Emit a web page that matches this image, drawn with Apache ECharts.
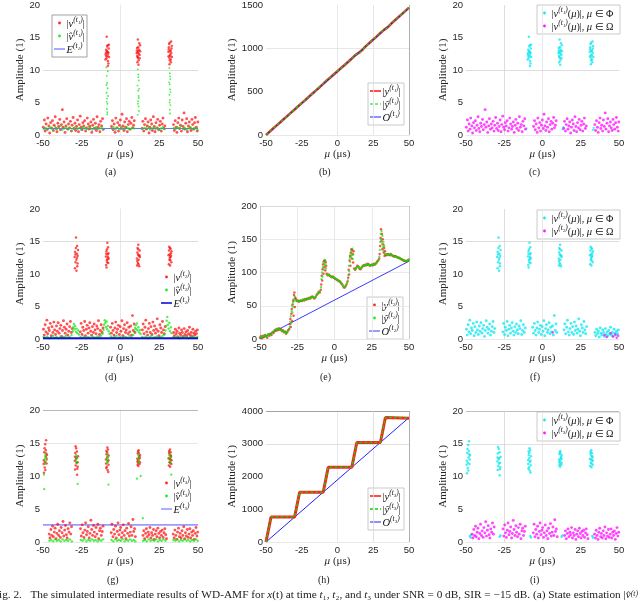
<!DOCTYPE html>
<html>
<head>
<meta charset="utf-8">
<script src="https://cdn.jsdelivr.net/npm/echarts@6/dist/echarts.min.js"></script>
<style>
html,body{margin:0;padding:0;background:#fff;}
#main{width:640px;height:602px;}
</style>
</head>
<body>
<div id="main"></div>
<script>
// 横轴刻度
var xTicks = [-50, -25, 0, 25, 50];

// ---- t1 ----
var vT1Noise = [[-49.8,1.2],[-49.1,2.3],[-48.6,0.6],[-48.0,1.7],[-47.4,0.9],[-46.9,2.6],[-46.2,1.4],[-45.7,0.3],[-45.1,1.9],[-44.5,1.1],[-43.9,2.2],[-43.3,0.7],[-42.8,1.5],[-42.1,2.8],[-41.6,1.0],[-41.0,0.5],[-40.4,1.8],[-39.9,1.3],[-39.2,2.4],[-38.7,0.8],[-38.1,1.6],[-37.5,3.9],[-37.0,1.2],[-36.4,2.0],[-35.8,0.4],[-35.2,1.4],[-34.7,2.5],[-34.0,0.9],[-33.5,1.7],[-32.9,1.1],[-32.3,2.1],[-31.7,0.6],[-31.2,1.5],[-30.6,2.7],[-30.0,1.0],[-29.4,1.8],[-28.9,0.7],[-28.3,1.3],[-27.7,2.3],[-27.1,0.5],[-26.6,1.6],[-26.0,2.9],[-25.4,1.2],[-24.8,0.8],[-24.3,1.9],[-23.7,1.4],[-23.1,2.2],[-22.5,0.6],[-22.0,1.1],[-21.4,2.6],[-20.8,1.7],[-20.2,0.9],[-19.7,1.3],[-19.1,2.0],[-18.5,0.4],[-17.9,1.5],[-17.4,2.4],[-16.8,1.0],[-16.2,1.8],[-15.6,0.7],[-15.1,2.8],[-14.5,1.2],[-13.9,1.6],[-13.3,0.5],[-12.8,2.1],[-12.2,1.4],[-11.6,2.5],[-11.1,0.9],
  [-5.8,1.3],[-5.2,2.2],[-4.7,0.8],[-4.1,1.7],[-3.5,0.4],[-3.0,2.6],[-2.4,1.1],[-1.8,1.9],[-1.3,0.6],[-0.7,1.5],[-0.1,2.3],[0.5,1.0],[1.0,3.2],[1.6,1.4],[2.2,0.7],[2.7,2.0],[3.3,1.2],[3.9,2.5],[4.4,0.5],[5.0,1.6],[5.6,2.1],[6.1,0.9],[6.7,1.8],[7.3,2.7],[7.8,1.1],[8.4,1.5],[8.9,2.2],
  [13.9,1.0],[14.4,2.1],[15.0,0.6],[15.5,1.6],[16.1,2.5],[16.7,0.9],[17.2,1.4],[17.8,2.0],[18.4,0.3],[18.9,1.2],[19.5,2.3],[20.1,1.7],[20.6,0.7],[21.2,2.8],[21.8,1.3],[22.3,0.5],[22.9,1.9],[23.5,1.1],[24.0,2.4],[24.6,0.8],[25.2,1.5],[25.7,2.1],[26.3,0.6],[26.9,1.7],[27.4,2.6],[28.0,1.0],[28.6,1.4],
  [34.2,1.6],[34.7,0.7],[35.3,2.2],[35.9,1.2],[36.4,0.4],[37.0,1.9],[37.6,2.6],[38.1,1.0],[38.7,1.5],[39.3,0.6],[39.8,2.3],[40.4,1.3],[41.0,3.4],[41.5,0.9],[42.1,1.8],[42.7,2.5],[43.2,0.5],[43.8,1.4],[44.4,2.0],[44.9,1.1],[45.5,0.7],[46.1,2.4],[46.6,1.6],[47.2,0.9],[47.8,1.9],[48.3,2.7],[48.9,1.2],[49.5,0.6],[49.9,2.0]];
var vT1Peak = [[-9.6,12.4],[-9.3,13.1],[-9.0,11.8],[-8.8,12.9],[-8.6,13.6],[-8.4,12.2],[-8.1,11.4],[-7.9,12.7],[-7.6,13.3],[-7.4,12.0],[-9.4,12.6],[-8.9,15.1],[-8.3,13.8],[-7.8,11.0],[-9.1,12.1],[-8.0,12.5],[-7.5,13.9],[-9.7,11.6],[-8.5,12.8],[-8.2,10.6],
  [10.4,12.6],[10.7,13.4],[11.0,12.0],[11.2,14.7],[11.5,12.9],[11.7,11.5],[12.0,13.1],[12.3,12.3],[12.6,13.8],[10.9,11.2],[11.4,13.5],[11.9,12.5],[12.4,11.8],[10.6,13.0],[11.1,12.7],[12.1,14.1],[11.6,10.8],[10.8,12.2],[12.7,12.9],[11.3,11.9],
  [30.9,12.8],[31.2,13.5],[31.5,11.9],[31.7,14.2],[32.0,12.4],[32.3,13.0],[32.5,11.2],[32.8,12.6],[33.1,13.7],[31.0,12.1],[31.4,14.0],[31.9,12.9],[32.4,11.6],[32.9,13.3],[31.6,10.9],[32.2,12.2],[33.2,12.0],[31.1,13.2],[32.7,14.4],[31.8,11.5]];
var vHatT1Noise = [[-49.5,0.9],[-48.2,1.1],[-47.0,0.8],[-45.8,1.2],[-44.6,1.0],[-43.4,0.7],[-42.2,1.3],[-41.0,0.9],[-39.8,1.1],[-38.6,1.4],[-37.4,0.8],[-36.2,1.0],[-35.0,1.2],[-33.8,0.9],[-32.6,1.1],[-31.4,0.7],[-30.2,1.0],[-29.0,1.3],[-27.8,0.9],[-26.6,1.1],[-25.4,0.8],[-24.2,1.2],[-23.0,1.0],[-21.8,0.9],[-20.6,1.3],[-19.4,1.0],[-18.2,0.8],[-17.0,1.1],[-15.8,1.2],[-14.6,0.9],[-13.4,1.0],[-12.2,1.2],[-11.2,0.8],
  [-5.6,1.0],[-4.4,1.2],[-3.2,0.8],[-2.0,1.1],[-0.8,0.9],[0.4,1.3],[1.6,1.0],[2.8,0.8],[4.0,1.2],[5.2,1.0],[6.4,0.9],[7.6,1.1],[8.8,1.0],
  [14.2,0.9],[15.4,1.1],[16.6,1.0],[17.8,1.3],[19.0,0.8],[20.2,1.0],[21.4,1.2],[22.6,0.9],[23.8,1.1],[25.0,0.8],[26.2,1.0],[27.4,1.2],[28.6,0.9],
  [34.4,1.1],[35.6,0.9],[36.8,1.2],[38.0,1.0],[39.2,1.4],[40.4,0.9],[41.6,1.1],[42.8,0.8],[44.0,1.0],[45.2,1.2],[46.4,0.9],[47.6,1.1],[48.8,1.0],[49.8,0.8]];
var vHatT1Peak = [[-9.2,10.4],[-8.9,9.1],[-8.6,8.0],[-8.3,7.2],[-9.0,6.5],[-8.7,5.6],[-8.4,4.8],[-8.8,4.0],[-8.5,3.5],[-8.2,9.8],[-9.1,7.7],[-8.0,6.0],[-8.6,3.2],[-8.9,5.1],
  [11.2,10.1],[11.5,9.3],[11.8,8.4],[11.0,7.6],[11.4,6.8],[11.7,6.0],[11.3,5.2],[11.6,4.4],[11.9,3.7],[11.1,3.1],[11.5,8.9],[11.8,5.7],[11.2,4.8],[12.0,7.1],
  [31.5,10.3],[31.8,9.5],[32.1,8.6],[31.7,7.8],[32.0,7.0],[31.6,6.2],[31.9,5.4],[32.2,4.6],[31.8,3.9],[32.0,3.3],[31.4,8.1],[32.3,6.6],[31.7,5.0],[31.9,9.0]];
var vPhiT1Low = [[-10.5,1.0],[13.2,0.9],[13.6,1.2],[33.0,0.8],[33.5,1.1]];
var eT1 = [[-50,1.0],[50,1.0]];
var yT1 = [[-50,0],[-47.5,37],[-45,74],[-42.5,111],[-40,147],[-37.5,184],[-35,221],[-32.5,258],[-30,295],[-27.5,331],[-25,368],[-22.5,404],[-20,441],[-17.5,478],[-15,515],[-12.5,552],[-10,590],[-7.5,628],[-5,664],[-2.5,700],[0,736],[2.5,772],[5,808],[7.5,845],[10,882],[12.5,921],[15,950],[17.5,984],[20,1028],[22.5,1065],[25,1102],[27.5,1138],[30,1176],[32.5,1213],[35,1242],[37.5,1283],[40,1322],[42.5,1358],[45,1395],[47.5,1432],[50,1470]];
var yHatT1 = [[-50,2],[-47.5,39],[-45,72],[-42.5,112],[-40,149],[-37.5,182],[-35,223],[-32.5,256],[-30,297],[-27.5,333],[-25,366],[-22.5,406],[-20,443],[-17.5,476],[-15,517],[-12.5,555],[-10,596],[-8.5,612],[-7.5,640],[-6,650],[-5,662],[-2.5,702],[0,738],[2.5,770],[5,810],[7.5,847],[10,884],[12.5,926],[14,938],[15.5,946],[17.5,982],[20,1030],[22.5,1063],[25,1104],[27.5,1140],[30,1178],[31.5,1200],[33,1210],[35,1240],[37.5,1285],[40,1320],[42.5,1360],[45,1393],[47.5,1434],[50,1468]];
var oT1 = [[-50,0],[50,1465]];

// ---- t2 ----
var vT2Noise = [[-49.7,1.5],[-49.2,0.6],[-48.6,2.2],[-48.1,1.1],[-47.5,2.9],[-47.0,0.8],[-46.4,1.7],[-45.9,1.3],[-45.3,2.4],[-44.7,0.5],[-44.2,1.9],[-43.6,1.0],[-43.0,2.6],[-42.5,1.4],[-41.9,0.7],[-41.3,2.0],[-40.8,1.2],[-40.2,2.5],[-39.6,0.9],[-39.1,1.6],[-38.5,2.1],[-37.9,0.4],[-37.4,1.3],[-36.8,2.8],[-36.2,1.8],[-35.7,0.9],[-35.1,1.5],[-34.5,2.3],[-34.0,0.6],[-33.4,1.2],[-32.8,1.9],[-32.3,2.7],[-31.7,1.0],[-31.2,1.6],
  [-25.9,1.1],[-25.4,2.4],[-24.8,0.7],[-24.3,1.8],[-23.7,1.3],[-23.1,2.7],[-22.6,0.5],[-22.0,1.5],[-21.5,2.1],[-20.9,0.9],[-20.3,1.7],[-19.8,2.5],[-19.2,1.2],[-18.7,0.6],[-18.1,1.9],[-17.5,1.0],[-17.0,2.3],[-16.4,1.4],[-15.8,0.8],[-15.3,2.0],[-14.7,1.6],[-14.2,2.8],[-13.6,0.7],[-13.0,1.3],[-12.5,2.2],[-11.9,1.0],[-11.3,1.7],
  [-6.4,1.8],[-5.9,0.9],[-5.3,2.4],[-4.8,1.3],[-4.2,0.6],[-3.6,1.7],[-3.1,2.6],[-2.5,1.0],[-1.9,1.5],[-1.4,2.1],[-0.8,0.7],[-0.2,1.9],[0.3,1.2],[0.9,2.8],[1.5,0.5],[2.0,1.6],[2.6,2.2],[3.2,1.0],[3.7,1.4],[4.3,2.5],[4.9,0.8],[5.4,1.8],[6.0,1.1],[6.6,2.0],[7.1,0.6],[7.7,3.6],[8.3,1.3],[8.8,2.3],[9.3,1.0],
  [14.1,1.4],[14.6,2.3],[15.2,0.8],[15.8,1.8],[16.3,2.9],[16.9,1.1],[17.5,0.6],[18.0,1.6],[18.6,2.4],[19.2,1.0],[19.7,1.9],[20.3,0.7],[20.9,2.6],[21.4,1.3],[22.0,2.0],[22.6,0.9],[23.1,1.5],[23.7,3.1],[24.3,1.2],[24.8,0.5],[25.4,2.2],[26.0,1.7],[26.5,1.0],[27.1,2.7],[27.7,1.4],[28.2,0.8],[28.8,1.9],
  [34.3,1.0],[34.8,0.5],[35.4,1.5],[36.0,0.8],[36.5,1.2],[37.1,0.3],[37.7,1.7],[38.2,0.9],[38.8,0.6],[39.4,1.4],[39.9,1.0],[40.5,0.4],[41.1,1.6],[41.6,0.7],[42.2,1.1],[42.8,0.5],[43.3,1.3],[43.9,0.8],[44.5,1.8],[45.0,0.6],[45.6,1.0],[46.2,0.4],[46.7,1.5],[47.3,0.9],[47.9,0.6],[48.4,1.2],[49.0,0.8],[49.6,1.4]];
var vT2Peak = [[-29.6,12.6],[-29.3,13.4],[-29.0,11.8],[-28.8,14.0],[-28.5,12.2],[-28.2,13.1],[-27.9,11.2],[-27.6,12.8],[-27.4,13.7],[-29.4,10.9],[-28.7,15.6],[-28.1,12.5],[-27.7,11.6],[-29.1,13.0],[-28.4,10.5],[-28.0,14.3],
  [-9.4,12.7],[-9.1,13.5],[-8.8,12.1],[-8.5,14.8],[-8.2,13.0],[-7.9,11.7],[-7.6,12.4],[-9.3,11.4],[-8.7,13.8],[-8.1,12.6],[-7.8,13.2],[-9.0,11.0],[-8.4,12.3],[-8.0,14.1],[-8.6,11.8],[-9.2,13.1],
  [10.6,12.4],[10.9,13.3],[11.2,11.7],[11.5,14.5],[11.8,12.8],[12.1,11.2],[12.4,13.6],[10.8,12.0],[11.3,13.0],[11.7,12.2],[12.2,12.9],[11.0,14.0],[11.6,11.5],[12.5,12.6],[11.4,13.8],[10.7,11.3],
  [31.0,12.9],[31.3,13.6],[31.6,12.2],[31.9,14.0],[32.2,12.6],[32.5,13.2],[32.8,11.8],[31.2,11.5],[31.7,13.0],[32.1,12.1],[32.6,12.8],[31.4,14.2],[32.0,11.3],[32.9,13.5],[31.8,12.5],[32.3,13.9]];
var vHatT2 = [[-49.6,0.3],[-48.4,0.2],[-47.2,0.4],[-46.0,0.1],[-44.8,0.3],[-43.6,0.5],[-42.4,0.2],[-41.2,0.3],[-40.0,0.1],[-38.8,0.4],[-37.6,0.2],[-36.4,0.3],[-35.2,0.5],[-34.0,0.2],[-32.8,0.3],[-31.6,0.6],
  [-30.8,1.2],[-30.4,1.8],[-30.0,2.3],[-29.6,1.5],[-29.2,2.0],[-28.8,1.1],[-28.3,1.6],[-27.8,0.9],[-27.3,1.3],[-26.8,0.7],
  [-25.8,0.3],[-24.6,0.2],[-23.4,0.4],[-22.2,0.1],[-21.0,0.3],[-19.8,0.2],[-18.6,0.5],[-17.4,0.3],[-16.2,0.2],[-15.0,0.4],[-13.8,0.3],[-12.6,0.5],[-11.6,0.8],
  [-11.0,1.4],[-10.6,2.2],[-10.2,2.9],[-9.8,2.5],[-9.4,1.8],[-9.0,2.7],[-8.6,1.5],[-8.1,2.0],[-7.6,1.2],[-7.1,0.8],
  [-6.2,0.4],[-5.0,0.2],[-3.8,0.3],[-2.6,0.5],[-1.4,0.2],[-0.2,0.3],[1.0,0.1],[2.2,0.4],[3.4,0.3],[4.6,0.2],[5.8,0.5],[7.0,0.3],[8.2,0.6],
  [9.0,1.1],[9.4,1.7],[9.8,2.1],[10.2,1.5],[10.6,2.4],[11.0,1.3],[11.5,1.8],[12.0,1.0],[12.5,1.4],[13.0,0.8],
  [14.0,0.3],[15.2,0.2],[16.4,0.4],[17.6,0.1],[18.8,0.3],[20.0,0.5],[21.2,0.2],[22.4,0.3],[23.6,0.4],[24.8,0.2],[26.0,0.3],[27.2,0.5],[28.4,0.7],
  [29.0,1.3],[29.4,2.0],[29.8,2.8],[30.2,3.4],[30.6,2.2],[31.0,1.6],[31.5,2.5],[32.0,1.2],[32.5,1.8],[33.0,0.9],
  [34.0,0.3],[35.2,0.2],[36.4,0.4],[37.6,0.1],[38.8,0.3],[40.0,0.2],[41.2,0.4],[42.4,0.3],[43.6,0.1],[44.8,0.3],[46.0,0.2],[47.2,0.4],[48.4,0.2],[49.6,0.3]];
var vOmegaT2 = [[6.7,1.0],[40.5,0.6],[42.0,0.3],[44.5,0.9],[46.0,0.4],[47.5,0.7],[48.5,0.2],[49.5,0.5]];
var eT2 = [[-50,0.12],[50,0.12]];
var yT2 = [[-50,2],[-49.3,4],[-48.6,1],[-47.9,5],[-47.2,3],[-46.5,6],[-45.8,4],[-45.1,2],[-44.4,7],[-43.7,5],[-43.0,8],[-42.3,6],[-41.6,10],[-40.9,9],[-40.2,13],[-39.5,12],[-38.8,15],[-38.1,13],[-37.4,16],[-36.7,14],[-36.0,15],[-35.3,12],[-34.6,13],[-33.9,10],[-33.2,11],[-32.5,8],[-31.8,10],[-31.1,13],[-30.4,15],
  [-29.9,22],[-29.6,30],[-29.3,18],[-29.0,38],[-28.7,45],[-28.4,27],[-28.1,52],[-27.8,58],[-27.5,35],[-27.2,66],[-26.9,70],[-26.6,48],[-26.3,62],
  [-26.0,60],[-25.3,57],[-24.6,58],[-23.9,56],[-23.2,57],[-22.5,58],[-21.8,57],[-21.1,59],[-20.4,58],[-19.7,60],[-19.0,59],[-18.3,61],[-17.6,60],[-16.9,62],[-16.2,61],[-15.5,63],[-14.8,64],[-14.1,62],[-13.4,61],[-12.7,63],[-12.0,66],[-11.3,68],[-10.6,71],[-9.9,70],[-9.2,74],
  [-8.9,82],[-8.6,95],[-8.3,88],[-8.0,105],[-7.7,112],[-7.4,98],[-7.1,117],[-6.8,108],[-6.5,118],[-6.2,103],[-5.9,115],[-5.6,110],
  [-5.3,98],[-4.6,96],[-3.9,97],[-3.2,95],[-2.5,94],[-1.8,93],[-1.1,94],[-0.4,92],[0.3,91],[1.0,90],[1.7,89],[2.4,88],[3.1,87],[3.8,86],[4.5,84],[5.2,82],[5.9,79],[6.6,77],[7.3,79],[8.0,82],[8.7,86],
  [9.2,92],[9.5,104],[9.8,97],[10.1,118],[10.4,125],[10.7,110],[11.0,130],[11.3,135],[11.6,121],[11.9,134],[12.2,128],[12.5,115],[12.8,132],
  [13.2,106],[13.9,104],[14.6,107],[15.3,110],[16.0,109],[16.7,106],[17.4,105],[18.1,107],[18.8,109],[19.5,111],[20.2,110],[20.9,112],[21.6,111],[22.3,113],[23.0,112],[23.7,110],[24.4,111],[25.1,112],[25.8,111],[26.5,113],[27.2,112],[27.9,114],[28.6,116],[29.3,118],[30.0,121],
  [30.3,128],[30.6,140],[30.9,152],[31.2,165],[31.5,147],[31.8,158],[32.1,135],[32.4,150],[32.7,142],[33.0,130],[33.3,137],[33.6,125],[33.9,132],
  [34.3,127],[35.0,126],[35.7,128],[36.4,127],[37.1,126],[37.8,128],[38.5,126],[39.2,125],[39.9,124],[40.6,125],[41.3,124],[42.0,123],[42.7,122],[43.4,122],[44.1,121],[44.8,120],[45.5,119],[46.2,118],[46.9,118],[47.6,117],[48.3,117],[49.0,118],[49.7,119]];
var yHatT2 = [[-49.6,3],[-48.9,2],[-48.2,4],[-47.5,4],[-46.8,5],[-46.1,5],[-45.4,3],[-44.7,6],[-44.0,6],[-43.3,7],[-42.6,7],[-41.9,9],[-41.2,11],[-40.5,11],[-39.8,14],[-39.1,14],[-38.4,14],[-37.7,15],[-37.0,15],[-36.3,14],[-35.6,13],[-34.9,12],[-34.2,11],[-33.5,11],[-32.8,9],[-32.1,9],[-31.4,12],[-30.7,14],
  [-30.0,18],[-29.7,26],[-29.4,34],[-29.1,24],[-28.8,42],[-28.5,50],[-28.2,40],[-27.9,55],[-27.6,48],[-27.3,60],[-27.0,57],[-26.7,64],
  [-25.7,58],[-25.0,58],[-24.3,57],[-23.6,57],[-22.9,58],[-22.2,57],[-21.5,58],[-20.8,59],[-20.1,59],[-19.4,59],[-18.7,60],[-18.0,60],[-17.3,61],[-16.6,61],[-15.9,62],[-15.2,63],[-14.5,63],[-13.8,62],[-13.1,62],[-12.4,64],[-11.7,67],[-11.0,69],[-10.3,70],[-9.6,72],
  [-9.0,78],[-8.7,90],[-8.4,100],[-8.1,94],[-7.8,108],[-7.5,115],[-7.2,104],[-6.9,113],[-6.6,119],[-6.3,111],[-6.0,117],[-5.7,106],
  [-5.0,97],[-4.3,96],[-3.6,96],[-2.9,95],[-2.2,94],[-1.5,93],[-0.8,93],[-0.1,92],[0.6,91],[1.3,90],[2.0,89],[2.7,88],[3.4,87],[4.1,85],[4.8,83],[5.5,81],[6.2,78],[6.9,78],[7.6,80],[8.3,84],[8.9,88],
  [9.3,96],[9.6,110],[9.9,102],[10.2,122],[10.5,116],[10.8,128],[11.1,124],[11.4,133],[11.7,126],[12.0,136],[12.3,120],[12.6,127],
  [13.5,105],[14.2,105],[14.9,108],[15.6,109],[16.3,108],[17.0,106],[17.7,106],[18.4,108],[19.1,110],[19.8,110],[20.5,111],[21.2,111],[21.9,112],[22.6,112],[23.3,111],[24.0,111],[24.7,111],[25.4,111],[26.1,112],[26.8,112],[27.5,113],[28.2,115],[28.9,117],[29.6,119],
  [30.1,124],[30.4,134],[30.7,146],[31.0,158],[31.3,150],[31.6,162],[31.9,143],[32.2,155],[32.5,138],[32.8,146],[33.1,133],[33.4,140],[33.7,128],
  [34.6,127],[35.3,127],[36.0,127],[36.7,127],[37.4,127],[38.1,127],[38.8,126],[39.5,125],[40.2,124],[40.9,124],[41.6,123],[42.3,123],[43.0,122],[43.7,121],[44.4,121],[45.1,120],[45.8,119],[46.5,118],[47.2,118],[47.9,117],[48.6,117],[49.3,118],[50.0,119]];
var oT2 = [[-50,0],[50,117]];

// ---- t3 ----
var vT3Noise = [[-46.0,1.2],[-45.5,0.6],[-44.9,1.9],[-44.4,1.0],[-43.8,2.4],[-43.3,0.8],[-42.7,1.5],[-42.2,2.1],[-41.6,0.5],[-41.0,1.3],[-40.5,2.7],[-39.9,1.0],[-39.4,1.7],[-38.8,0.7],[-38.3,2.2],[-37.7,1.4],[-37.1,3.1],[-36.6,0.9],[-36.0,1.8],[-35.5,2.5],[-34.9,1.1],[-34.4,0.6],[-33.8,2.0],[-33.2,1.5],[-32.7,2.9],[-32.1,1.2],[-31.6,2.3],
  [-25.8,2.0],[-25.3,0.9],[-24.7,2.6],[-24.2,1.4],[-23.6,0.7],[-23.0,1.8],[-22.5,2.9],[-21.9,1.1],[-21.4,1.6],[-20.8,2.3],[-20.2,0.6],[-19.7,1.3],[-19.1,3.3],[-18.6,1.9],[-18.0,1.0],[-17.4,2.5],[-16.9,1.5],[-16.3,0.8],[-15.8,2.2],[-15.2,1.2],[-14.6,2.7],[-14.1,0.5],[-13.5,1.7],[-13.0,2.1],[-12.4,1.0],[-11.8,1.6],[-11.3,2.4],
  [-6.0,1.4],[-5.5,2.7],[-4.9,0.8],[-4.4,1.9],[-3.8,1.2],[-3.2,2.4],[-2.7,0.6],[-2.1,1.6],[-1.6,2.9],[-1.0,1.1],[-0.4,1.8],[0.1,2.2],[0.7,0.7],[1.2,1.4],[1.8,2.6],[2.4,1.0],[2.9,1.7],[3.5,0.5],[4.0,2.1],[4.6,1.3],[5.2,2.8],[5.7,0.9],[6.3,1.5],[6.8,2.3],[7.4,1.0],[8.0,3.4],[8.5,1.6],[9.1,2.0],[9.6,0.8],
  [14.5,1.0],[15.0,1.7],[15.6,0.5],[16.2,1.3],[16.7,2.0],[17.3,0.8],[17.9,1.5],[18.4,1.1],[19.0,2.2],[19.6,0.6],[20.1,1.4],[20.7,1.0],[21.3,1.9],[21.8,0.4],[22.4,1.2],[23.0,1.7],[23.5,0.8],[24.1,2.1],[24.7,1.3],[25.2,0.6],[25.8,1.6],[26.4,1.0],[26.9,1.8],[27.5,0.7],[28.1,1.4],[28.6,2.0],[29.2,1.1],[29.7,0.5],
  [34.0,1.2],[34.6,0.6],[35.1,1.8],[35.7,1.0],[36.3,0.4],[36.8,1.5],[37.4,2.1],[38.0,0.8],[38.5,1.3],[39.1,0.6],[39.7,1.7],[40.2,1.0],[40.8,2.3],[41.4,0.5],[41.9,1.4],[42.5,0.9],[43.1,1.9],[43.6,0.7],[44.2,1.2],[44.8,2.0],[45.3,0.6],[45.9,1.5],[46.5,1.0],[47.0,1.7],[47.6,0.4],[48.2,1.3],[48.7,2.2],[49.3,0.9],[49.8,1.5]];
var vT3Peak = [[-49.5,12.4],[-49.2,13.6],[-48.9,11.3],[-48.6,14.8],[-48.3,12.9],[-48.0,15.4],[-47.7,11.9],[-47.4,13.2],[-49.4,10.5],[-48.8,12.1],[-48.2,13.9],[-47.6,12.6],[-49.0,14.2],[-48.5,10.9],[-47.9,13.4],[-49.6,11.8],
  [-29.5,12.3],[-29.2,13.5],[-28.9,11.6],[-28.6,14.2],[-28.3,12.8],[-28.0,10.2],[-27.7,12.1],[-27.4,13.0],[-29.3,11.0],[-28.7,12.6],[-28.1,13.7],[-27.6,11.4],[-29.0,14.5],[-28.4,12.0],[-27.9,11.1],[-29.4,12.9],
  [-9.4,12.5],[-9.1,13.8],[-8.8,11.4],[-8.5,14.3],[-8.2,12.2],[-7.9,10.6],[-7.6,13.1],[-9.3,11.9],[-8.7,12.8],[-8.1,14.0],[-7.7,11.7],[-9.0,13.3],[-8.4,10.9],[-7.8,12.4],[-8.6,13.6],[-9.2,11.2],
  [10.8,12.6],[11.1,13.4],[11.4,12.0],[11.7,13.9],[12.0,12.8],[12.3,11.8],[12.6,13.2],[10.9,12.2],[11.3,13.7],[11.6,12.4],[12.1,13.0],[12.5,12.1],[11.0,11.7],[11.8,13.5],[12.4,12.7],[11.5,11.5],
  [31.0,12.7],[31.3,13.5],[31.6,12.1],[31.9,14.0],[32.2,12.5],[32.5,13.1],[32.8,11.8],[31.2,11.6],[31.7,13.2],[32.1,12.0],[32.6,12.9],[31.4,13.8],[32.0,11.4],[32.9,12.4],[31.8,12.6],[32.3,13.6]];
var vHatT3Peak = [[-48.9,12.6],[-48.6,13.1],[-48.3,12.2],[-48.0,12.9],[-47.7,12.4],[-48.4,13.4],[-48.8,11.8],[-49.2,8.0],[-49.4,10.2],
  [-28.8,12.4],[-28.5,12.9],[-28.2,12.1],[-27.9,12.7],[-28.6,13.2],[-28.1,11.9],[-27.6,8.8],
  [-8.8,12.5],[-8.5,13.0],[-8.2,12.2],[-7.9,12.8],[-8.6,11.9],[-8.3,13.3],[-7.8,8.7],
  [11.2,12.6],[11.5,13.1],[11.8,12.3],[12.1,12.9],[11.6,13.4],[11.9,12.0],[10.6,9.6],[13.0,10.0],[14.4,3.6],
  [31.5,12.5],[31.8,13.0],[32.1,12.2],[32.4,12.8],[31.9,13.3],[32.2,11.9],[32.8,10.2]];
var vHatT3Noise = [[-45.8,0.2],[-44.6,0.3],[-43.4,0.1],[-42.2,0.4],[-41.0,0.2],[-39.8,0.3],[-38.6,0.1],[-37.4,0.4],[-36.2,0.2],[-35.0,0.3],[-33.8,0.2],[-32.6,0.4],[-31.4,0.1],
  [-25.6,0.3],[-24.4,0.2],[-23.2,0.4],[-22.0,0.1],[-20.8,0.3],[-19.6,0.2],[-18.4,0.4],[-17.2,0.2],[-16.0,0.3],[-14.8,0.1],[-13.6,0.3],[-12.4,0.2],[-11.2,0.4],
  [-5.8,0.3],[-4.6,0.1],[-3.4,0.4],[-2.2,0.2],[-1.0,0.3],[0.2,0.2],[1.4,0.4],[2.6,0.1],[3.8,0.3],[5.0,0.2],[6.2,0.4],[7.4,0.2],[8.6,0.3],[9.6,0.1],
  [14.6,0.2],[15.8,0.3],[17.0,0.1],[18.2,0.4],[19.4,0.2],[20.6,0.3],[21.8,0.2],[23.0,0.4],[24.2,0.1],[25.4,0.3],[26.6,0.2],[27.8,0.4],[29.0,0.2],
  [34.2,0.3],[35.4,0.2],[36.6,0.4],[37.8,0.1],[39.0,0.3],[40.2,0.2],[41.4,0.4],[42.6,0.2],[43.8,0.3],[45.0,0.1],[46.2,0.3],[47.4,0.2],[48.6,0.4],[49.8,0.2]];
var vPhiT3Low = [[-47.5,0.9],[-47.0,0.7],[-46.5,1.1],[-28.0,0.8],[-27.5,1.0],[-8.0,0.9],[-7.5,0.7],[12.5,0.8],[13.0,1.0],[32.5,0.9],[33.0,0.7]];
var eT3 = [[-50,2.6],[50,2.6]];
var yT3 = [[-50,0],[-46.5,760],[-30,760],[-26.5,1520],[-10,1520],[-6.5,2280],[10,2280],[13.5,3040],[30,3040],[33.5,3800],[50,3780]];
var yHatT3 = [[-50,0],[-46.5,765],[-30,765],[-26.5,1525],[-10,1525],[-6.5,2285],[10,2285],[13.5,3045],[30,3045],[33.5,3805],[50,3785]];
var oT3 = [[-50,0],[50,3800]];

// 图例文字(富文本)
var legendText = {
  a1:'{n||}{i|v}{s|(t₁)}{n||}', a2:'{n||}{i|v̂}{s|(t₁)}{n||}', a3:'{i|E}{s|(t₁)}',
  b1:'{n||}{i|y}{s|(t₁)}{n||}', b2:'{n||}{i|ŷ}{s|(t₁)}{n||}', b3:'{i|O}{s|(t₁)}',
  c1:'{n||}{i|v}{s|(t₁)}{n|(}{i|μ}{n|)|, }{i|μ}{n| ∈ Φ}', c2:'{n||}{i|v}{s|(t₁)}{n|(}{i|μ}{n|)|, }{i|μ}{n| ∈ Ω}',
  d1:'{n||}{i|v}{s|(t₂)}{n||}', d2:'{n||}{i|v̂}{s|(t₂)}{n||}', d3:'{i|E}{s|(t₂)}',
  e1:'{n||}{i|y}{s|(t₂)}{n||}', e2:'{n||}{i|ŷ}{s|(t₂)}{n||}', e3:'{i|O}{s|(t₂)}',
  f1:'{n||}{i|v}{s|(t₂)}{n|(}{i|μ}{n|)|, }{i|μ}{n| ∈ Φ}', f2:'{n||}{i|v}{s|(t₂)}{n|(}{i|μ}{n|)|, }{i|μ}{n| ∈ Ω}',
  g1:'{n||}{i|v}{s|(t₃)}{n||}', g2:'{n||}{i|v̂}{s|(t₃)}{n||}', g3:'{i|E}{s|(t₃)}',
  h1:'{n||}{i|y}{s|(t₃)}{n||}', h2:'{n||}{i|ŷ}{s|(t₃)}{n||}', h3:'{i|O}{s|(t₃)}',
  i1:'{n||}{i|v}{s|(t₃)}{n|(}{i|μ}{n|)|, }{i|μ}{n| ∈ Φ}', i2:'{n||}{i|v}{s|(t₃)}{n|(}{i|μ}{n|)|, }{i|μ}{n| ∈ Ω}'
};

var RED = 'rgba(255,0,0,0.85)', GREEN = 'rgba(0,230,0,0.85)', CYAN = 'rgba(0,230,240,0.9)', MAG = 'rgba(255,0,255,0.9)';

function sc(name, data, color, size){ return {kind:'scatter', name:name, data:data, color:color, size:size}; }
function ln(name, data, color, width, dash){ return {kind:'line', name:name, data:data, color:color, width:width, dash:dash}; }

var panels = [
  {rect:[43,4,155,131], yMax:20, yStep:5, nameGap:17, cap:'(a)', capX:113, capY:173,
   hLines:[[10,'#d4d4d4']], vLines:[],
   series:[sc('a1',vT1Noise,RED,2.9), sc('a1',vT1Peak,RED,2.5), ln('a3',eT1,'#7070ff',1.2), sc('a2',vHatT1Noise,GREEN,2.3), sc('a2',vHatT1Peak,GREEN,1.9)],
   legend:{left:52, top:15, width:35, items:['a1','a2','a3'], border:'#8c8c8c'}},
  {rect:[266,4,143,131], yMax:1500, yStep:500, nameGap:27, cap:'(b)', capX:327, capY:173,
   hLines:[[1000,'#e0e0e0']], vLines:[[25,'#e0e0e0'],[50,'#9a9a9a']],
   series:[ln('b1',yT1,'#ff2020',2.6), ln('b3',oT1,'#2020ff',1), ln('b2',yHatT1,'#00dd00',1.2,'dashed')],
   legend:{left:368, top:83, width:36, items:['b1','b2','b3'], border:'#bcbcbc'}},
  {rect:[466,4,153,131], yMax:20, yStep:5, nameGap:17, cap:'(c)', capX:537, capY:173,
   hLines:[[10,'#d4d4d4']], vLines:[[-25,'#d4d4d4']],
   series:[sc('c1',vT1Peak,CYAN,2.5), sc('c1',vPhiT1Low,CYAN,2.3), sc('c2',vT1Noise,MAG,2.9)],
   legend:{left:537, top:5, width:83, items:['c1','c2'], border:'#bcbcbc'}},
  {rect:[43,209,155,130], yMax:20, yStep:5, nameGap:17, cap:'(d)', capX:113, capY:378,
   hLines:[[15,'#d4d4d4']], vLines:[],
   series:[sc('d1',vT2Noise,RED,2.9), sc('d1',vT2Peak,RED,2.5), sc('d2',vHatT2,GREEN,2.4), ln('d3',eT2,'#1010d0',2)],
   legend:{left:159, top:269, width:38, items:['d1','d2','d3'], border:null}},
  {rect:[260,206,149,133], yMax:200, yStep:50, nameGap:21, cap:'(e)', capX:328, capY:378,
   hLines:[[50,'#e6e6e6'],[100,'#e6e6e6'],[150,'#e6e6e6'],[200,'#cfcfcf']], vLines:[[-25,'#e6e6e6'],[0,'#e6e6e6'],[25,'#e6e6e6'],[-50,'#bdbdbd'],[50,'#bdbdbd']],
   series:[ln('e3',oT2,'#3a3aff',1), sc('e1',yT2,RED,2.5), sc('e2',yHatT2,GREEN,2.3)],
   legend:{left:367, top:297, width:36, items:['e1','e2','e3'], border:'#bcbcbc'}},
  {rect:[466,209,153,130], yMax:20, yStep:5, nameGap:17, cap:'(f)', capX:538, capY:378,
   hLines:[[15,'#d4d4d4']], vLines:[[-25,'#d4d4d4']],
   series:[sc('f1',vT2Noise,CYAN,2.9), sc('f1',vT2Peak,CYAN,2.5), sc('f2',vOmegaT2,MAG,2.5)],
   legend:{left:537, top:210, width:83, items:['f1','f2'], border:'#bcbcbc'}},
  {rect:[43,410,155,132], yMax:20, yStep:5, nameGap:17, cap:'(g)', capX:115, capY:581,
   hLines:[[20,'#a6a6a6'],[15,'#e0e0e0']], vLines:[],
   series:[ln('g3',eT3,'#9a9aff',1.6), sc('g1',vT3Noise,RED,2.9), sc('g1',vT3Peak,RED,2.5), sc('g2',vHatT3Noise,GREEN,2.4), sc('g2',vHatT3Peak,GREEN,2.3)],
   legend:{left:159, top:475, width:38, items:['g1','g2','g3'], border:null}},
  {rect:[266,411,143,131], yMax:4000, yStep:1000, nameGap:27, cap:'(h)', capX:326, capY:581,
   hLines:[[3000,'#d8d8d8'],[4000,'#8c8c8c']], vLines:[[25,'#d8d8d8'],[50,'#9a9a9a']],
   series:[ln('h3',oT3,'#2020ff',1), ln('h1',yT3,'#ff2020',3), ln('h2',yHatT3,'#00dd00',1.3,'dashed')],
   legend:{left:368, top:488, width:36, items:['h1','h2','h3'], border:'#bcbcbc'}},
  {rect:[466,411,153,131], yMax:20, yStep:5, nameGap:17, cap:'(i)', capX:538, capY:581,
   hLines:[[15,'#d8d8d8'],[20,'#b0b0b0']], vLines:[[-25,'#d4d4d4']],
   series:[sc('i1',vT3Peak,CYAN,2.5), sc('i1',vPhiT3Low,CYAN,2.5), sc('i2',vT3Noise,MAG,2.9)],
   legend:{left:537, top:412, width:83, items:['i1','i2'], border:'#bcbcbc'}}
];

var tickFont = 'Liberation Sans, Arial, sans-serif';
var serif = 'Liberation Serif, Times New Roman, serif';

var richLegend = {
  n:{fontFamily:serif, fontSize:10, fill:'#111', verticalAlign:'bottom', lineHeight:13},
  i:{fontFamily:serif, fontSize:10.5, fontStyle:'italic', fill:'#111', verticalAlign:'bottom', lineHeight:13},
  s:{fontFamily:serif, fontSize:7.5, fontStyle:'italic', fill:'#111', verticalAlign:'top', lineHeight:9}
};

var grids = [], xAxes = [], yAxes = [], series = [], graphics = [];

panels.forEach(function(p, gi){
  grids.push({left:p.rect[0], top:p.rect[1], width:p.rect[2], height:p.rect[3], containLabel:false});
  xAxes.push({
    type:'value', gridIndex:gi, min:xTicks[0], max:xTicks[xTicks.length-1], interval:25,
    name:'{i|μ} (μs)', nameLocation:'middle', nameGap:14,
    nameTextStyle:{fontFamily:serif, fontSize:11, color:'#262626',
      rich:{i:{fontFamily:serif, fontSize:11, fontStyle:'italic', color:'#262626'}}},
    axisLine:{show:true, lineStyle:{color:'#e8e8e8', width:1}},
    axisTick:{show:false}, splitLine:{show:false},
    axisLabel:{fontFamily:tickFont, fontSize:9.5, color:'#262626', margin:3, formatter:function(v){return String(v);}}
  });
  yAxes.push({
    type:'value', gridIndex:gi, min:0, max:p.yMax, interval:p.yStep,
    name:'Amplitude (1)', nameLocation:'middle', nameGap:p.nameGap, nameRotate:90,
    nameTextStyle:{fontFamily:serif, fontSize:11, color:'#262626'},
    axisLine:{show:true, lineStyle:{color:'#e8e8e8', width:1}},
    axisTick:{show:false}, splitLine:{show:false},
    axisLabel:{fontFamily:tickFont, fontSize:9.5, color:'#262626', margin:3, formatter:function(v){return String(v);}}
  });

  var info = {};
  p.series.forEach(function(s, si){
    var o;
    if (!info[s.name]) info[s.name] = s;
    if (s.kind === 'scatter') {
      o = {name:s.name, type:'scatter', data:s.data, symbol:'circle', symbolSize:s.size,
           itemStyle:{color:s.color}};
    } else {
      o = {name:s.name, type:'line', data:s.data, symbol:'none', showSymbol:false,
           lineStyle:{color:s.color, width:s.width, type:s.dash ? [3,2] : 'solid'}, itemStyle:{color:s.color}};
    }
    o.xAxisIndex = gi; o.yAxisIndex = gi; o.silent = true; o.animation = false; o.z = 3 + si;
    if (si === 0) {
      var ml = [];
      p.hLines.forEach(function(h){ ml.push({yAxis:h[0], lineStyle:{color:h[1]}}); });
      p.vLines.forEach(function(v){ ml.push({xAxis:v[0], lineStyle:{color:v[1]}}); });
      o.markLine = {silent:true, symbol:'none', label:{show:false}, animation:false,
                    lineStyle:{type:'solid', width:0.8}, data:ml, z:1};
    }
    series.push(o);
  });

  // 图例：手工画框、图标和文字
  var L = p.legend, rowH = 13, kids = [];
  var boxH = L.items.length * rowH + 3;
  kids.push({type:'rect', shape:{x:0, y:0, width:L.width, height:boxH},
             style:{fill:L.border ? '#fff' : 'rgba(255,255,255,0)', stroke:L.border || null, lineWidth:L.border ? 0.8 : 0}});
  L.items.forEach(function(n, k){
    var s = info[n], cy = 1.5 + rowH * k + rowH / 2;
    if (s.kind === 'line') {
      kids.push({type:'line', shape:{x1:2, y1:cy, x2:13, y2:cy},
                 style:{stroke:s.color, lineWidth:Math.min(s.width, 1.6), lineDash:s.dash ? [3,2] : null}});
    } else {
      kids.push({type:'circle', shape:{cx:7.5, cy:cy, r:1.4}, style:{fill:s.color}});
    }
    kids.push({type:'text', x:14.5, y:cy,
               style:{text:legendText[n], fontFamily:serif, fontSize:10, fill:'#111',
                      verticalAlign:'middle', align:'left', rich:richLegend}});
  });
  graphics.push({type:'group', x:L.left, y:L.top, z:100, silent:true, children:kids});

  graphics.push({type:'text', left:p.capX - 8, top:p.capY - 6, silent:true,
    style:{text:p.cap, font:'10px ' + serif, fill:'#222'}});
});

// 图注
graphics.push({type:'text', left:-1, top:590, silent:true,
  style:{text:'ig. 2.   The simulated intermediate results of WD-AMF for {i|x}(t) at time {i|t}₁, {i|t}₂, and {i|t}₃ under SNR = 0 dB, SIR = −15 dB. (a) State estimation |{i|v̂}{s|(t)}',
    font:'11.3px ' + serif, fill:'#222',
    rich:{i:{fontStyle:'italic', fontFamily:serif, fontSize:11.3, fill:'#222'}, s:{fontFamily:serif, fontSize:7.5, fontStyle:'italic', verticalAlign:'top'}}}});

var myChart = echarts.init(document.getElementById('main'));
myChart.setOption({
  backgroundColor:'#fff',
  animation:false,
  grid:grids, xAxis:xAxes, yAxis:yAxes, series:series, graphic:graphics
});
window.addEventListener('resize', function(){ myChart.resize(); });
</script>
</body>
</html>
